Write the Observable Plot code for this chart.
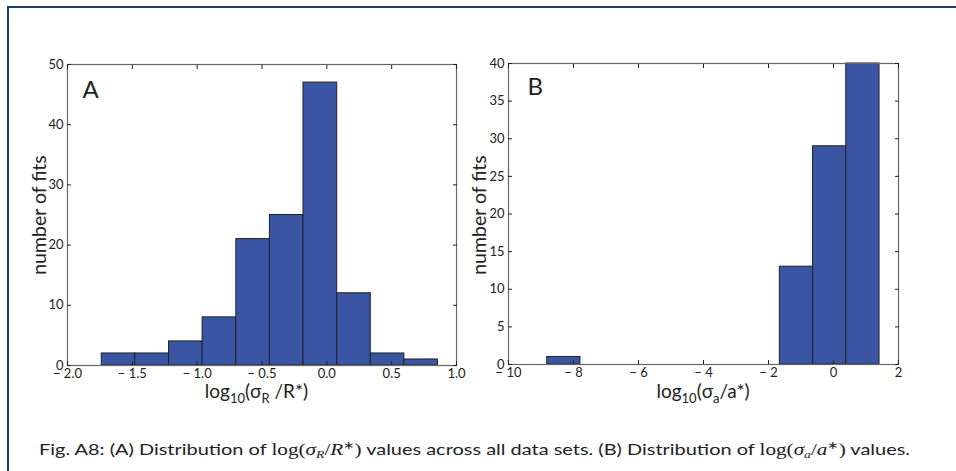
<!DOCTYPE html>
<html><head><meta charset="utf-8">
<script src="https://cdn.jsdelivr.net/npm/d3@7"></script>
<script src="https://cdn.jsdelivr.net/npm/@observablehq/plot@0.6"></script>
<style>
body{margin:0;background:#fff;width:956px;height:471px;overflow:hidden;position:relative;font-family:Lato,sans-serif}
#border{position:absolute;left:7px;top:6px;width:980px;height:500px;border-top:2px solid #1d3b68;border-left:2px solid #1d3b68}
#pa{position:absolute;left:0;top:0}
#pb{position:absolute;left:460px;top:0}
#cap{position:absolute;left:39px;top:440px;font-size:16px;line-height:18px;white-space:nowrap;transform-origin:0 0;color:#222}
#cap .m{font-family:"Liberation Serif",serif;font-size:17px}
#cap sub{font-size:11px;vertical-align:-3px;line-height:0}
#cap sup{font-size:11px;vertical-align:6px;line-height:0}
</style></head><body>
<div id="border"></div><div id="pa"></div><div id="pb"></div>
<div id="cap">Fig. A8: (A) Distribution of <span class="m">log(<i>σ<sub>R</sub></i>/<i>R</i><sup>∗</sup>)</span> values across all data sets. (B) Distribution of <span class="m">log(<i>σ<sub>a</sub></i>/<i>a</i><sup>∗</sup>)</span> values.</div>
<script>
// Panel A: log10(sigma_R / R*) histogram
const edgesA = [-1.736, -1.477, -1.217, -0.958, -0.698, -0.439, -0.180, 0.080, 0.339, 0.598, 0.857];
const countsA = [2, 2, 4, 8, 21, 25, 47, 12, 2, 1];
const xTicksA = [-2.0, -1.5, -1.0, -0.5, 0.0, 0.5, 1.0];
const yTicksA = [0, 10, 20, 30, 40, 50];

// Panel B: log10(sigma_a / a*) histogram
const edgesB = [-8.808, -7.786, -6.763, -5.741, -4.719, -3.696, -2.674, -1.652, -0.629, 0.393, 1.416];
const countsB = [1, 0, 0, 0, 0, 0, 0, 13, 29, 40];
const xTicksB = [-10, -8, -6, -4, -2, 0, 2];
const yTicksB = [0, 5, 10, 15, 20, 25, 30, 35, 40];

const minus = v => v < 0 ? "\u2212 " : "";

function panel(o) {
  const bars = o.counts.map((c, i) => ({x1: o.edges[i], x2: o.edges[i + 1], y: c})).filter(d => d.y > 0);
  const p = Plot.plot({
    width: o.W, height: o.H,
    marginLeft: o.mL, marginRight: o.mR, marginTop: o.mT, marginBottom: o.mB,
    x: {domain: o.xDomain},
    y: {domain: o.yDomain},
    style: {fontFamily: "Lato, sans-serif", fontSize: "13px", color: "#222", background: "transparent", overflow: "visible"},
    marks: [
      Plot.rectY(bars, {x1: "x1", x2: "x2", y: "y", fill: "#3a55a3", stroke: "#222", strokeWidth: 1}),
      Plot.frame({stroke: "#666", strokeWidth: 1.2}),
      Plot.axisX({ticks: o.xTicks, tickFormat: o.xFmt, tickSize: -4, tickPadding: 7, label: null, stroke: "#222"}),
      Plot.axisX({anchor: "top", ticks: o.xTicks, tickFormat: () => "", tickSize: -4, label: null}),
      Plot.axisY({ticks: o.yTicks, tickSize: -4, tickPadding: 8, label: null}),
      Plot.axisY({anchor: "right", ticks: o.yTicks, tickFormat: () => "", tickSize: -4, label: null}),
      Plot.text([o.letter], {text: d => d, frameAnchor: "top-left", dx: o.ldx, dy: o.ldy, fontSize: 24, lineAnchor: "top", textAnchor: "start", fill: "#222"})
    ]
  });
  const svg = d3.select(p);
  const xr = p.scale("x").range;
  const xl = svg.append("text").attr("x", (xr[0] + xr[1]) / 2 - o.xlShift).attr("y", o.xlY)
    .attr("text-anchor", "middle").attr("font-size", 19).attr("fill", "#222").attr("font-family", "Lato, sans-serif");
  o.xlParts.forEach(([t, sub], i) => {
    const ts = xl.append("tspan").text(t);
    if (sub) ts.attr("font-size", 13).attr("dy", 5);
    else if (i > 0 && o.xlParts[i - 1][1]) ts.attr("dy", -5);
  });
  svg.append("text").attr("transform", `translate(${o.ylX},${o.ylY}) rotate(-90)`)
    .attr("text-anchor", "middle").attr("font-size", 19.5).attr("fill", "#222").attr("font-family", "Lato, sans-serif")
    .text("number of fits");
  return p;
}

document.getElementById("pa").appendChild(panel({
  edges: edgesA, counts: countsA, xDomain: [-2, 1], yDomain: [0, 50],
  xTicks: xTicksA, yTicks: yTicksA, xFmt: d => minus(d) + Math.abs(d).toFixed(1),
  W: 470, H: 410, mL: 67, mR: 14, mT: 64, mB: 45,
  letter: "A", ldx: 15, ldy: 16,
  xlParts: [["log"], ["10", true], ["(σ"], ["R", true], [" /R*)"]], xlShift: 5, xlY: 398,
  ylX: 46, ylY: 215
}));
document.getElementById("pb").appendChild(panel({
  edges: edgesB, counts: countsB, xDomain: [-10, 2], yDomain: [0, 40],
  xTicks: xTicksB, yTicks: yTicksB, xFmt: d => minus(d) + Math.abs(d),
  W: 496, H: 410, mL: 48, mR: 58, mT: 63, mB: 46,
  letter: "B", ldx: 19, ldy: 14,
  xlParts: [["log"], ["10", true], ["(σ"], ["a", true], ["/a*)"]], xlShift: 0, xlY: 398,
  ylX: 26, ylY: 215
}));

const cap = document.getElementById("cap");
const w = cap.getBoundingClientRect().width;
cap.style.transform = `scaleX(${871 / w})`;
</script>
</body></html>
